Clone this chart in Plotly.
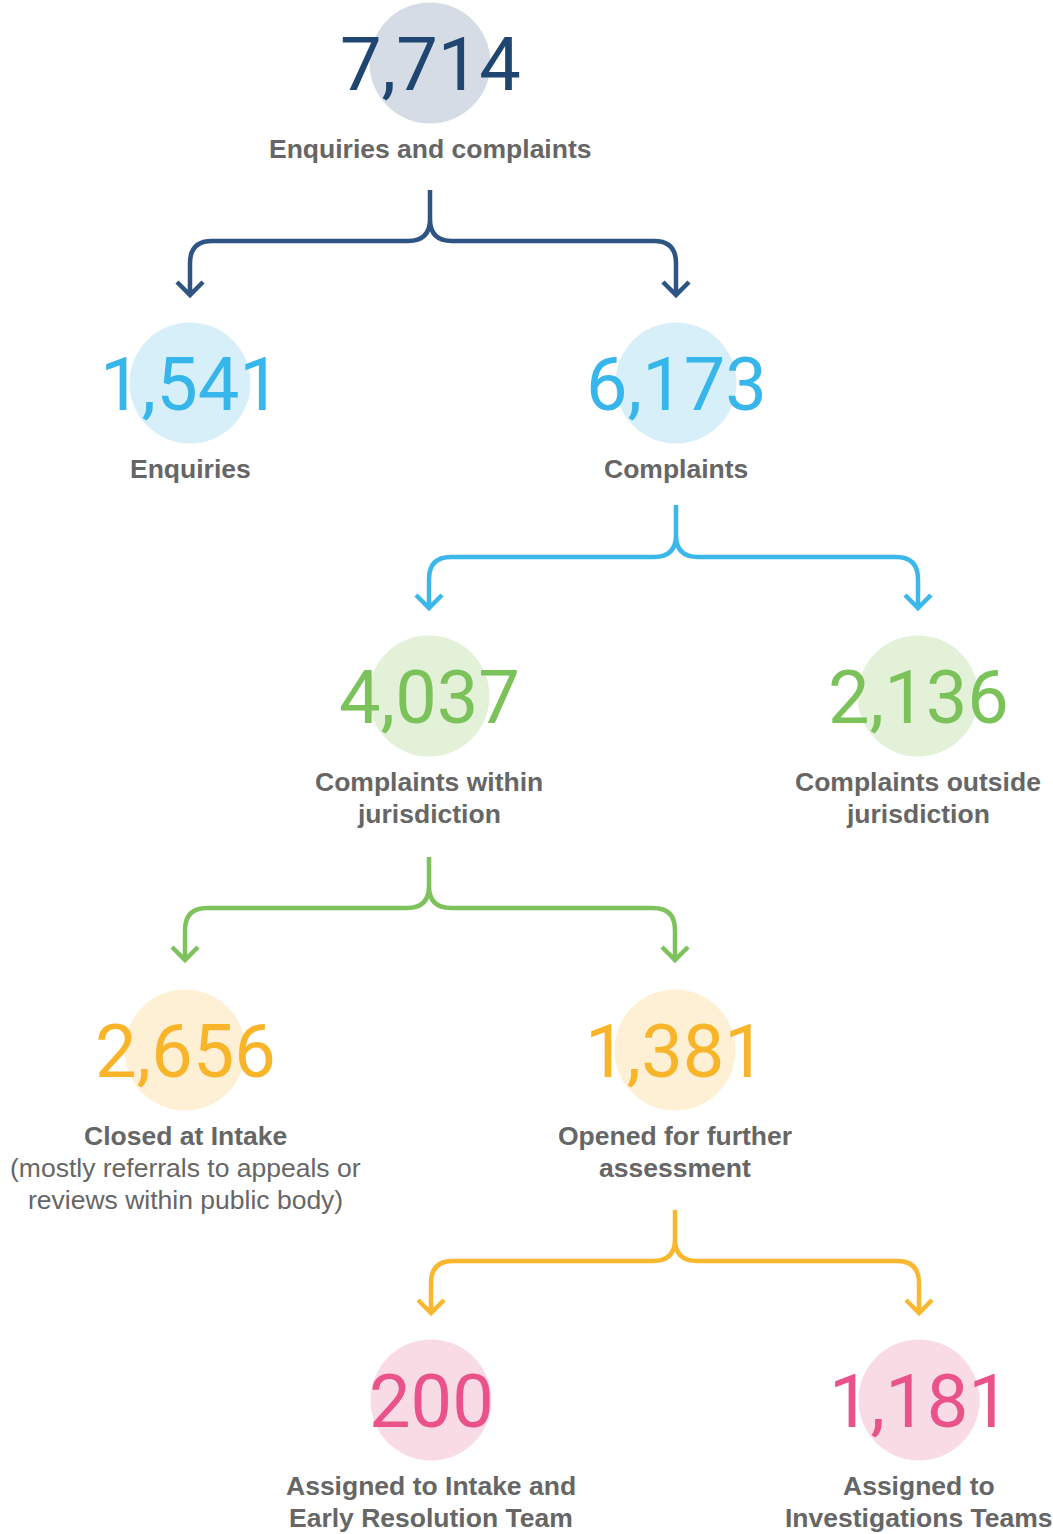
import plotly.graph_objects as go

# ---------------- data ----------------
values = [7714, 1541, 6173, 4037, 2136, 2656, 1381, 200, 1181]
titles = [
    ["Enquiries and complaints"],
    ["Enquiries"],
    ["Complaints"],
    ["Complaints within", "jurisdiction"],
    ["Complaints outside", "jurisdiction"],
    ["Closed at Intake"],
    ["Opened for further", "assessment"],
    ["Assigned to Intake and", "Early Resolution Team"],
    ["Assigned to", "Investigations Teams"],
]
notes = [[], [], [], [], [], ["(mostly referrals to appeals or", "reviews within public body)"], [], [], []]
parents = [None, 0, 0, 2, 2, 3, 3, 6, 6]
levels = [0, 1, 1, 2, 2, 3, 3, 4, 4]

# ---------------- layout / style ----------------
W, H = 1053, 1534
node_x = [430, 190, 676, 429, 918, 185, 675, 431, 919]
level_y = [63, 383, 696, 1050, 1400]
num_colors = ["#1f4571", "#36b6ea", "#7cc25a", "#f9b52a", "#e9538a"]
circ_colors = ["#d5dce6", "#d7eff9", "#e3f1d9", "#fdf0d4", "#f9dbe6"]
arrow_colors = ["#2e5483", "#3bb8e9", "#7dc25b", "#f9b730"]
label_color = "#666666"
circle_d = 121
label_off = 86
line_gap = 32
br_top = [190, 505, 857, 1210]
br_h = [241, 557, 908, 1261]
br_tip = [295, 608, 960, 1313]
rad = 22
head = 13

node_y = [level_y[l] for l in levels]

fig = go.Figure()

fig.add_trace(go.Scatter(
    x=node_x, y=node_y, mode="markers",
    marker=dict(size=circle_d, color=[circ_colors[l] for l in levels], line=dict(width=0)),
    hoverinfo="skip", showlegend=False,
))

annotations = []
for i, v in enumerate(values):
    l = levels[i]
    annotations.append(dict(
        x=node_x[i], y=node_y[i] + 1, xref="x", yref="y", text=f"{v:,}",
        showarrow=False, xanchor="center", yanchor="middle",
        font=dict(family="Roboto, Liberation Sans, sans-serif",
                  size=74, color=num_colors[l]),
    ))
    ly = node_y[i] + label_off
    for t in titles[i]:
        annotations.append(dict(
            x=node_x[i], y=ly, xref="x", yref="y", text=f"<b>{t}</b>",
            showarrow=False, xanchor="center", yanchor="middle",
            font=dict(family="Liberation Sans, Arial, sans-serif", size=26.5, color=label_color),
        ))
        ly += line_gap
    for t in notes[i]:
        annotations.append(dict(
            x=node_x[i], y=ly, xref="x", yref="y", text=t,
            showarrow=False, xanchor="center", yanchor="middle",
            font=dict(family="Liberation Sans, Arial, sans-serif", size=26.5, color=label_color),
        ))
        ly += line_gap

shapes = []
for pl in range(4):
    kids = [i for i in range(len(values)) if parents[i] is not None and levels[parents[i]] == pl]
    p = parents[kids[0]]
    px = node_x[p]
    t, h, tip = br_top[pl], br_h[pl], br_tip[pl]
    xl, xr = node_x[kids[0]], node_x[kids[1]]
    path = (
        f"M {px},{t} L {px},{h - rad} "
        f"Q {px},{h} {px - rad},{h} L {xl + rad},{h} Q {xl},{h} {xl},{h + rad} L {xl},{tip} "
        f"M {px},{h - rad} "
        f"Q {px},{h} {px + rad},{h} L {xr - rad},{h} Q {xr},{h} {xr},{h + rad} L {xr},{tip} "
        f"M {xl - head},{tip - head} L {xl},{tip} L {xl + head},{tip - head} "
        f"M {xr - head},{tip - head} L {xr},{tip} L {xr + head},{tip - head}"
    )
    shapes.append(dict(type="path", xref="x", yref="y", path=path,
                       line=dict(color=arrow_colors[pl], width=4.5), layer="below"))

fig.update_layout(
    width=W, height=H, margin=dict(l=0, r=0, t=0, b=0),
    paper_bgcolor="white", plot_bgcolor="white",
    xaxis=dict(range=[0, W], visible=False, fixedrange=True),
    yaxis=dict(range=[H, 0], visible=False, fixedrange=True),
    annotations=annotations, shapes=shapes, showlegend=False,
    hovermode=False,
)

fig.write_html(
    "out.html",
    config={"displayModeBar": False, "staticPlot": True},
    post_script="document.body.style.margin='0';document.body.style.overflow='hidden';",
)
